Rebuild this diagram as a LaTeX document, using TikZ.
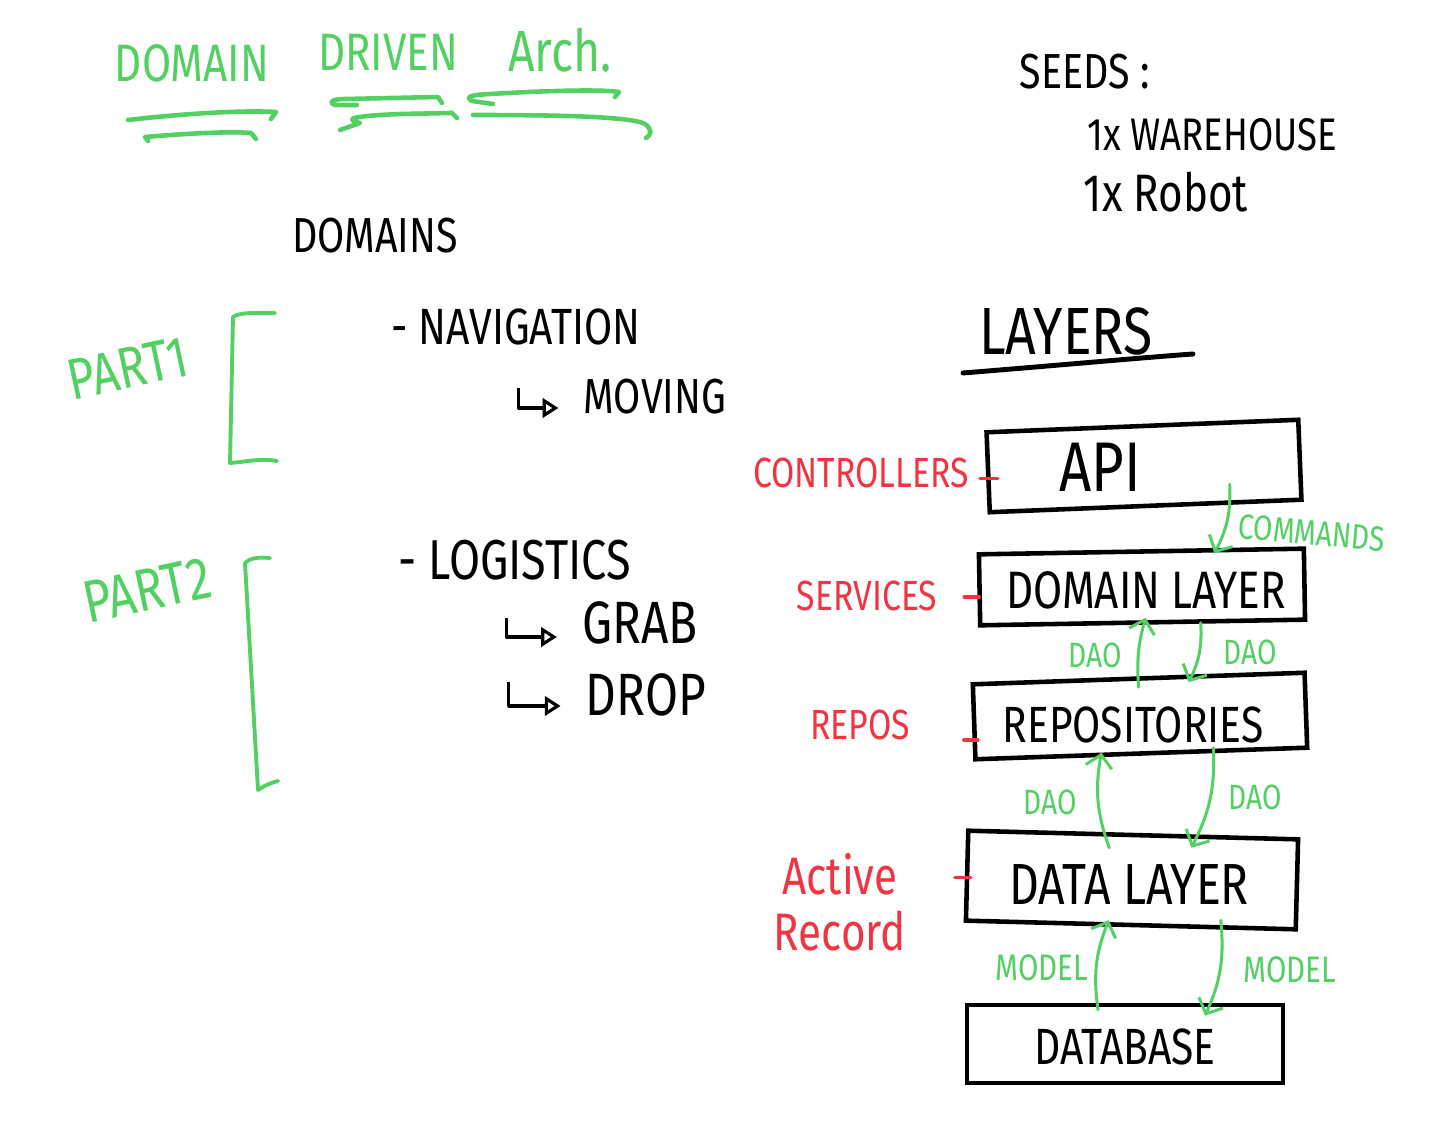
\documentclass[tikz,border=0pt]{standalone}
\usepackage{fontspec}
\newfontfamily\hand[FakeStretch=0.8]{Fira Sans}
\usetikzlibrary{arrows.meta,calc}
\definecolor{mgreen}{RGB}{82,208,98}
\definecolor{mred}{RGB}{240,52,66}
\begin{document}
\begin{tikzpicture}[x=0.02cm,y=-0.02cm,
  fs/.style={font={\hand\fontsize{#1}{#1}\selectfont}, inner sep=0pt, anchor=center},
  box/.style={draw=black, line width=2.6pt, inner sep=0pt},
  tick/.style={draw=mred, line width=2pt, line cap=round},
  garrow/.style={draw=mgreen, line width=1.7pt, line cap=round, -{Straight Barb[length=7pt,width=15pt]}},
  gline/.style={draw=mgreen, line width=2.6pt, line cap=round, line join=round},
  hook/.style={draw=black, line width=1.8pt, line join=round, -{Triangle[open,length=9pt,width=11pt]}}]
\useasboundingbox (0,0) rectangle (1433,1121);

% title
\node[fs=30, text=mgreen] (t1) at (192,63) {DOMAIN};
\node[fs=30, text=mgreen] (t2) at (388,52) {DRIVEN};
\node[fs=33, text=mgreen] (t3) at (560,50) {Arch.};
\draw[gline] (128,120) .. controls (180,114) and (240,110) .. (276,112) -- (271,119);
\draw[gline] (148,141) -- (145,137) .. controls (180,134) and (230,131) .. (251,133) -- (256,139);
\draw[gline] (357,105) -- (335,105) .. controls (327,102) and (333,99) .. (345,99) -- (438,97) -- (442,103);
\draw[gline] (340,130) -- (360,123) .. controls (343,119) and (352,116) .. (400,114) -- (452,113) -- (457,118);
\draw[gline] (493,104) -- (472,101) .. controls (465,97) and (470,95) .. (490,94) .. controls (540,91) and (600,89) .. (619,92) -- (615,97);
\draw[gline] (473,115) .. controls (550,115) and (630,116) .. (645,124) .. controls (653,130) and (651,135) .. (646,138);

% seeds
\node[fs=28] (seeds) at (1085,72) {SEEDS :};
\node[fs=26] (wh) at (1212,135) {1x WAREHOUSE};
\node[fs=30] (robot) at (1166,192) {1x Robot};

% domains
\node[fs=28] (domains) at (375,236) {DOMAINS};
\node[fs=33, text=mgreen, rotate=12] (p1) at (128,368) {PART1};
\node[fs=34, text=mgreen, rotate=12] (p2) at (147,590) {PART2};
\draw[gline, line width=2.2pt] (275,313) .. controls (255,313) and (240,312) .. (233,317) -- (230,463) .. controls (245,462) and (260,458) .. (277,461);
\draw[gline, line width=2.2pt] (270,558) .. controls (258,557) and (250,558) .. (245,563) -- (258,790) .. controls (262,787) and (270,783) .. (278,781);

\node[fs=29] (nav) at (516,327) {- NAVIGATION};
\node[fs=28] (moving) at (655,397) {MOVING};
\node[fs=32] (log) at (515,560) {- LOGISTICS};
\node[fs=34] (grab) at (640,623) {GRAB};
\node[fs=34] (drop) at (646,695) {DROP};
\draw[hook] ([shift={(-65,-9)}]moving.west) |- ([shift={(-25,11)}]moving.west);
\draw[hook] ([shift={(-75,-5)}]grab.west) |- ([shift={(-25,14)}]grab.west);
\draw[hook] ([shift={(-77,-13)}]drop.west) |- ([shift={(-25,11)}]drop.west);

% layers
\node[fs=38] (layers) at (1066,332) {LAYERS};
\draw[line width=2.8pt, line cap=round] (963,373) .. controls (1050,366) and (1150,357) .. (1193,354);

\node[box, minimum width=6.24cm, minimum height=1.6cm, rotate=2.3] (api) at (1144,466) {};
\node[box, minimum width=6.5cm, minimum height=1.42cm, rotate=1] (dom) at (1142,587) {};
\node[box, minimum width=6.64cm, minimum height=1.5cm, rotate=2] (repo) at (1140,716) {};
\node[box, minimum width=6.6cm, minimum height=1.8cm, rotate=-1.5] (data) at (1132,880) {};
\node[box, minimum width=6.32cm, minimum height=1.56cm] (db) at (1125,1044) {};

\node[fs=40] (apit) at (1100,467) {API};
\node[fs=30] (domt) at (1146,590) {DOMAIN LAYER};
\node[fs=29] (repot) at (1133,725) {REPOSITORIES};
\node[fs=33] (datat) at (1129,885) {DATA LAYER};
\node[fs=29] (dbt) at (1125,1047) {DATABASE};

% red labels
\node[fs=24, text=mred] (ctrl) at (861,473) {CONTROLLERS};
\node[fs=24, text=mred] (serv) at (867,596) {SERVICES};
\node[fs=24, text=mred] (repos) at (860,725) {REPOS};
\node[font={\hand\fontsize{30}{32}\selectfont}, inner sep=0pt, text=mred, align=center] (ar) at (840,902) {Active\\Record};
\draw[tick] ([shift={(-6,6)}]api.west) -- ([shift={(12,6)}]api.west);
\draw[tick] ([shift={(-13,7)}]dom.west) -- ([shift={(2,7)}]dom.west);
\draw[tick] ([shift={(-8,18)}]repo.west) -- ([shift={(6,18)}]repo.west);
\draw[tick] ([shift={(-10,2)}]data.west) -- ([shift={(6,2)}]data.west);

% green arrows
\draw[garrow] ([shift={(84,-24)}]api.south) to[bend left=15] ([shift={(73,4)}]dom.north);
\node[fs=20, text=mgreen, rotate=-5] (cmd) at (1312,533) {COMMANDS};
\draw[garrow] ([shift={(58,-2)}]dom.south) to[bend left=15] ([shift={(50,6)}]repo.north);
\draw[garrow] ([shift={(0,11)}]repo.north) to[bend left=10] ([shift={(3,-7)}]dom.south);
\node[fs=20, text=mgreen] (dao1) at (1095,655) {DAO};
\node[fs=20, text=mgreen] (dao2) at (1250,652) {DAO};
\draw[garrow] ([shift={(72,-8)}]repo.south) to[bend left=15] ([shift={(58,15)}]data.north);
\draw[garrow] ([shift={(-24,15)}]data.north) to[bend left=15] ([shift={(-40,-3)}]repo.south);
\node[fs=20, text=mgreen] (dao3) at (1050,802) {DAO};
\node[fs=20, text=mgreen] (dao4) at (1255,797) {DAO};
\draw[garrow] ([shift={(90,-7)}]data.south) to[bend left=15] ([shift={(80,13)}]db.north);
\draw[garrow] ([shift={(-27,7)}]db.north) to[bend left=15] ([shift={(-22,-7)}]data.south);
\node[fs=21, text=mgreen] (m1) at (1042,968) {MODEL};
\node[fs=21, text=mgreen] (m2) at (1290,970) {MODEL};
\end{tikzpicture}
\end{document}
